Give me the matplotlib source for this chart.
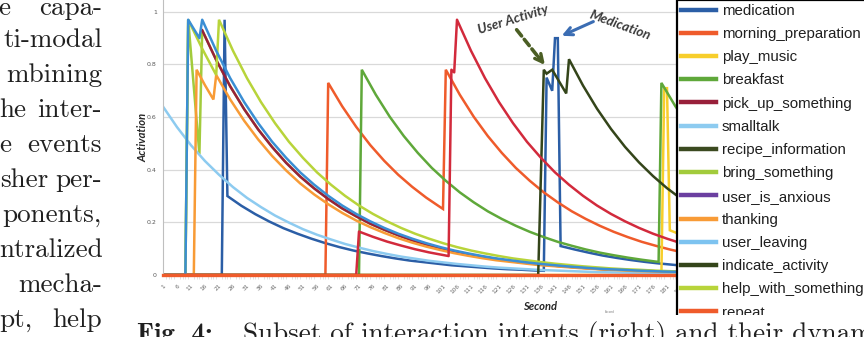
import matplotlib
matplotlib.use("Agg")
import matplotlib.pyplot as plt
from matplotlib.lines import Line2D
from matplotlib.patches import Rectangle

W, H = 864, 337

# ---------------- data (seconds, activation) ----------------
smalltalk_t = list(range(1, 192, 5))
smalltalk_v = [0.640, 0.562, 0.493, 0.433, 0.381, 0.334, 0.293, 0.258, 0.226, 0.199,
               0.174, 0.153, 0.135, 0.118, 0.104, 0.091, 0.080, 0.070, 0.062, 0.054,
               0.048, 0.042, 0.037, 0.032, 0.028, 0.025, 0.022, 0.019, 0.017, 0.015,
               0.013, 0.011, 0.010, 0.009, 0.008, 0.007, 0.006, 0.005, 0.005]

cluster_blue_t = [1, 9, 10, 14, 15] + list(range(20, 191, 5))
cluster_blue_v = [0, 0, 0.97, 0.90, 0.97,
                  0.852, 0.748, 0.657, 0.577, 0.506, 0.445, 0.390, 0.343, 0.301, 0.264,
                  0.232, 0.204, 0.179, 0.157, 0.138, 0.121, 0.106, 0.093, 0.082, 0.072,
                  0.063, 0.056, 0.049, 0.043, 0.038, 0.033, 0.029, 0.025, 0.022, 0.020,
                  0.017, 0.015, 0.013, 0.012, 0.010]

pick_up_t = [15] + list(range(20, 191, 5))
pick_up_v = [0.93,
             0.817, 0.717, 0.630, 0.553, 0.486, 0.426, 0.374, 0.329, 0.289, 0.253,
             0.223, 0.195, 0.172, 0.151, 0.132, 0.116, 0.102, 0.090, 0.079, 0.069,
             0.061, 0.053, 0.047, 0.041, 0.036, 0.032, 0.028, 0.024, 0.021, 0.019,
             0.017, 0.015, 0.013, 0.011, 0.010]

bring_t = [1, 9, 10, 14] + pick_up_t
bring_v = [0, 0, 0.97, 0.46] + pick_up_v

thanking_t = [1, 12, 13, 16, 19, 20] + list(range(25, 191, 5))
thanking_v = [0, 0, 0.78, 0.721, 0.667, 0.76,
              0.667, 0.586, 0.515, 0.452, 0.397, 0.348, 0.306, 0.269, 0.236, 0.207,
              0.182, 0.160, 0.140, 0.123, 0.108, 0.095, 0.083, 0.073, 0.064, 0.056,
              0.050, 0.044, 0.038, 0.034, 0.030, 0.026, 0.023, 0.020, 0.018, 0.015,
              0.014, 0.012, 0.011, 0.009]

help_t = [1, 9, 10, 15, 20, 21] + list(range(26, 192, 5))
help_v = [0, 0, 0.97, 0.86, 0.76, 0.97,
          0.852, 0.748, 0.657, 0.577, 0.506, 0.445, 0.390, 0.343, 0.301, 0.264,
          0.232, 0.204, 0.179, 0.157, 0.138, 0.121, 0.106, 0.093, 0.082, 0.072,
          0.063, 0.056, 0.049, 0.043, 0.038, 0.033, 0.029, 0.025, 0.022, 0.020,
          0.017, 0.015, 0.013, 0.012]

medication_t = ([1, 22, 23, 24] + list(range(29, 135, 5)) + [137, 138, 140, 141, 142, 143]
                + list(range(148, 191, 5)) + [190])
medication_v = ([0, 0, 0.97, 0.30]
                + [0.263, 0.231, 0.203, 0.178, 0.157, 0.138, 0.121, 0.106, 0.093, 0.082,
                   0.072, 0.063, 0.055, 0.049, 0.043, 0.037, 0.033, 0.029, 0.025, 0.022,
                   0.020, 0.017]
                + [0.016, 0.75, 0.70, 0.90, 0.90, 0.11]
                + [0.097, 0.085, 0.074, 0.065, 0.057, 0.050, 0.044, 0.039, 0.034]
                + [0.032])

breakfast_t = [1, 71, 72] + list(range(77, 178, 5)) + [178, 179, 184, 189, 191]
breakfast_v = ([0, 0, 0.78]
               + [0.685, 0.601, 0.528, 0.464, 0.407, 0.358, 0.314, 0.276, 0.242, 0.213,
                  0.187, 0.164, 0.144, 0.126, 0.111, 0.097, 0.085, 0.075, 0.066, 0.058,
                  0.051]
               + [0.050, 0.73, 0.641, 0.563, 0.534])

morning_t = [1, 59, 60] + list(range(65, 101, 5)) + [101, 102] + list(range(107, 188, 5)) + [191]
morning_v = ([0, 0, 0.73]
             + [0.641, 0.563, 0.494, 0.434, 0.381, 0.335, 0.294, 0.258]
             + [0.251, 0.78]
             + [0.685, 0.601, 0.528, 0.464, 0.407, 0.358, 0.314, 0.276, 0.242, 0.213,
                0.187, 0.164, 0.144, 0.126, 0.111, 0.097, 0.085]
             + [0.077])

crimson_t = [1, 70, 71, 76, 81, 86, 91, 96, 101, 103, 104, 105, 106] + list(range(111, 192, 5))
crimson_v = ([0, 0, 0.165, 0.145, 0.127, 0.112, 0.098, 0.086, 0.076, 0.072, 0.78, 0.77, 0.97]
             + [0.852, 0.748, 0.657, 0.577, 0.506, 0.445, 0.390, 0.343, 0.301, 0.264,
                0.232, 0.204, 0.179, 0.157, 0.138, 0.121, 0.106])

indicate_t = [1, 135, 137, 138, 140, 145, 146] + list(range(151, 192, 5))
indicate_v = ([0, 0, 0.78, 0.765, 0.78, 0.69, 0.82]
              + [0.720, 0.632, 0.555, 0.487, 0.428, 0.376, 0.330, 0.290, 0.254])

play_music_t = [1, 179, 180, 181, 182, 187, 191]
play_music_v = [0, 0, 0.71, 0.71, 0.17, 0.149, 0.135]

zero_t = [1, 191]
zero_v = [0, 0]

legend_labels = ["medication", "morning_preparation", "play_music", "breakfast",
                 "pick_up_something", "smalltalk", "recipe_information", "bring_something",
                 "user_is_anxious", "thanking", "user_leaving", "indicate_activity",
                 "help_with_something", "repeat"]
legend_colors = ["#2B5EA6", "#EF5B2B", "#F7CE2B", "#5FA83A", "#98203A", "#8DCBF0",
                 "#3B4A20", "#A2CB3C", "#6B3FA0", "#F89B36", "#7DC3F0", "#34451A",
                 "#B8D43A", "#EF5B2B"]

x_tick_values = list(range(1, 187, 5))
y_tick_values = [0, 0.2, 0.4, 0.6, 0.8, 1]
y_tick_labels = ["0", "0.2", "0.4", "0.6", "0.8", "1"]

left_lines = [
    [("e", 10), ("capa-", 102)],
    [("ti-modal", 102)],
    [("mbining", 102)],
    [("he", 26), ("inter-", 102)],
    [("e", 11), ("events", 102)],
    [("sher", 48), ("per-", 102)],
    [("ponents,", 102)],
    [("ntralized", 103)],
    [("mecha-", 102)],
    [("pt,", 32), ("help", 102)],
]
left_baselines = [15, 47, 82, 117, 152, 187, 222, 257, 292, 327]

# ---------------- figure ----------------
fig = plt.figure(figsize=(W / 100, H / 100), dpi=100)
fig.patch.set_facecolor("white")

ax_left, ax_right, ax_bottom = 163, 695, 275
ax = fig.add_axes([ax_left / W, (H - ax_bottom) / H, (ax_right - ax_left) / W, ax_bottom / H])
ax.set_xlim(1, 1 + (ax_right - ax_left) / 2.8)
ax.set_ylim(0, 1.045)

lw = 1.8
series = {
    "medication": (medication_t, medication_v),
    "morning_preparation": (morning_t, morning_v),
    "play_music": (play_music_t, play_music_v),
    "breakfast": (breakfast_t, breakfast_v),
    "pick_up_something": (pick_up_t, pick_up_v),
    "smalltalk": (smalltalk_t, smalltalk_v),
    "recipe_information": (zero_t, zero_v),
    "bring_something": (bring_t, bring_v),
    "user_is_anxious": (zero_t, zero_v),
    "thanking": (thanking_t, thanking_v),
    "user_leaving": (zero_t, zero_v),
    "indicate_activity": (indicate_t, indicate_v),
    "help_with_something": (help_t, help_v),
}
handles = []
for lab, col in zip(legend_labels, legend_colors):
    handles.append(Line2D([0], [0], color=col, lw=3.2))
    if lab in series:
        t, v = series[lab]
        z = 1.9 if lab == "bring_something" else 2
        ax.plot(t, v, color=col, lw=lw, zorder=z, solid_joinstyle="miter")
# unlabelled extra intents visible in the chart
ax.plot(cluster_blue_t, cluster_blue_v, color="#3A8ED4", lw=lw, zorder=2.05)
ax.plot(crimson_t, crimson_v, color="#D22A3C", lw=lw, zorder=2.05)
# repeat drawn last: baseline
ax.plot(zero_t, zero_v, color="#EF5B2B", lw=2.4, zorder=3, clip_on=False)

# axes styling
for s in ["top", "right"]:
    ax.spines[s].set_visible(False)
ax.spines["left"].set_color("#BFBFBF")
ax.spines["left"].set_linewidth(0.8)
ax.spines["bottom"].set_color("#BFBFBF")
ax.set_yticks(y_tick_values)
ax.set_yticklabels(y_tick_labels)
ax.yaxis.grid(True, color="#D9D9D9", lw=0.9)
ax.set_axisbelow(True)
ax.tick_params(axis="y", length=0, pad=4.5, labelsize=4.5, labelcolor="#595959")
ax.set_xticks(x_tick_values)
ax.set_xticklabels([str(x) for x in x_tick_values], rotation=45, ha="right",
                   rotation_mode="anchor")
ax.set_xticks(list(range(1, 191)), minor=True)
ax.tick_params(axis="x", which="major", length=0, pad=6, labelsize=4.2, labelcolor="#6a6a6a")
ax.tick_params(axis="x", which="minor", length=3, width=0.5, color="#D6D6D6")

# annotations
ann_font = ["Lato", "DejaVu Sans"]
ax.text(126, 0.972, "User Activity", rotation=17, ha="center", va="center",
        fontsize=9.6, fontweight="bold", style="italic", color="#3a3a3a",
        family=ann_font, clip_on=False)
ax.text(164.2, 0.950, "Medication", rotation=-20, ha="center", va="center",
        fontsize=9.6, fontweight="bold", style="italic", color="#3a3a3a",
        family=ann_font, clip_on=False)
ax.annotate("", xy=(135.8, 0.818), xytext=(127.3, 0.932),
            arrowprops=dict(arrowstyle="-", color="#4B5E24", lw=2.6, linestyle=(0, (2.2, 1.2)),
                            shrinkA=0, shrinkB=0))
ax.annotate("", xy=(137.4, 0.798), xytext=(135.0, 0.83),
            arrowprops=dict(arrowstyle="->", color="#4B5E24", lw=2.4, mutation_scale=14,
                            shrinkA=0, shrinkB=0))
ax.annotate("", xy=(143.4, 0.909), xytext=(154.7, 0.963),
            arrowprops=dict(arrowstyle="->", color="#3B6DB3", lw=2.2, mutation_scale=14,
                            shrinkA=0, shrinkB=0))

# axis titles
fig.text(143 / W, 1 - 137 / H, "Activation", rotation=90, ha="center", va="center",
         fontsize=8, fontweight="bold", style="italic", family=ann_font, color="#262626")
fig.text(540 / W, 1 - 306 / H, "Second", ha="center", va="center",
         fontsize=8, fontweight="bold", style="italic", family=ann_font, color="#262626")
fig.text(610 / W, 1 - 312 / H, "Second", ha="center", va="center",
         fontsize=2.2, family=ann_font, color="#777777")

# legend
leg = fig.legend(handles, legend_labels, loc="upper left",
                 bbox_to_anchor=(677 / W, 1.0), frameon=True, fancybox=False,
                 edgecolor="black", framealpha=1, facecolor="white",
                 prop={"family": ["Liberation Sans", "DejaVu Sans"], "size": 10.8},
                 handlelength=2.35, handletextpad=0.4, labelspacing=0.615,
                 borderpad=0.25, borderaxespad=0)
leg.get_frame().set_linewidth(1.6)
for txt in leg.get_texts():
    txt.set_color("#1f1f1f")

# crop of the chart picture
fig.patches.append(Rectangle((125 / W, 0), (W - 125) / W, (H - 315) / H,
                             transform=fig.transFigure, facecolor="white",
                             edgecolor="none", zorder=20))

# surrounding paper text
serif = "cmr10"
for frags, base in zip(left_lines, left_baselines):
    for txt, right in frags:
        fig.text(right / W, 1 - base / H, txt, ha="right", va="baseline",
                 family=serif, fontsize=19.5, color="#202020")

fig.text(137 / W, 1 - 341 / H, "Fig. 4:", ha="left", va="baseline",
         family="cmb10", fontsize=19.5, color="#202020", zorder=30)
fig.text(243 / W, 1 - 341 / H, "Subset of interaction intents (right) and their dynamics",
         ha="left", va="baseline", family=serif, fontsize=19.5, color="#202020", zorder=30)

fig.savefig("out.png", dpi=100, facecolor="white")
